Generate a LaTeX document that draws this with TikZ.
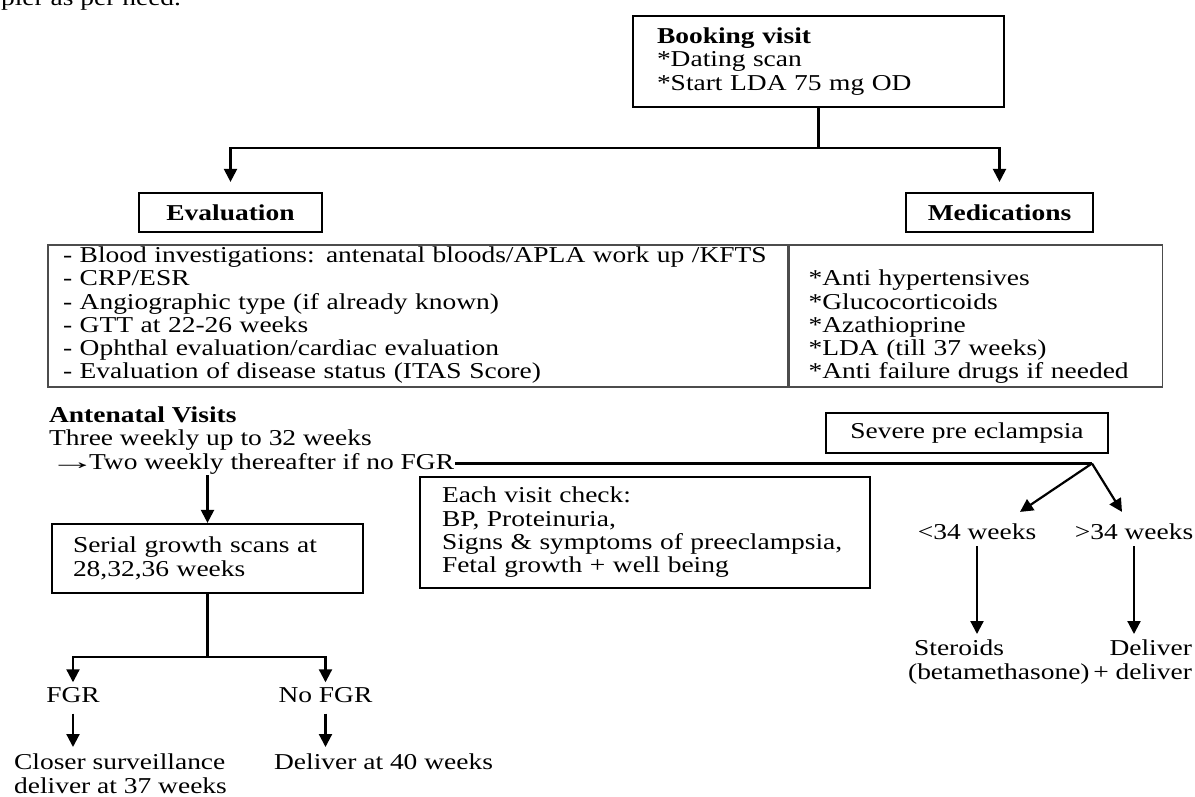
\documentclass[tikz,border=0pt]{standalone}
\usepackage{fontspec}
\usepackage{graphicx}
\setmainfont{Liberation Serif}[FakeStretch=1.21]
\usetikzlibrary{positioning}
\usetikzlibrary{arrows.meta}

\begin{document}
\begin{tikzpicture}[x=1pt,y=-1pt,>={Triangle[length=13pt,width=13pt]},line width=2.2pt,
	every node/.style={font=\fontsize{22.7}{23.3}\selectfont},
	box/.style={draw,line width=2.2pt,inner ysep=0pt},
	cell/.style={draw=black!70,line width=1.6pt,inner ysep=0pt,align=left,minimum height=142pt},
	txt/.style={inner sep=0pt}]

	\useasboundingbox (0,0) rectangle (1195,796);

	% booking and the two branches
	\node[txt,anchor=base west] (cut) at (0,5) {pler as per need.};
	\node[box,align=left,text width=323pt,inner xsep=24pt,minimum height=91pt] (book) at (818.5,61.5)
	{\textbf{Booking visit}\\{}*Dating scan\\{}*Start LDA 75 mg OD};
	\node[box,minimum width=183pt,minimum height=39pt] (eval) at (230.5,212.5) {\textbf{Evaluation}};
	\node[box,minimum width=187pt,minimum height=39pt] (med) at (999.5,212.5) {\textbf{Medications}};
	\coordinate (split) at (book.south |- 0,148);

	\draw (book.south) -- (split);
	\draw[->,shorten >=10pt] (split) -| (eval.north);
	\draw[->,shorten >=10pt] (split) -| (med.north);

	% table
	\node[cell,text width=710pt,inner xsep=15pt] (evalcell) at (418,316)
	{\strut- Blood investigations: antenatal bloods/APLA work up /KFTS\\- CRP/ESR\\- Angiographic type (if already known)\\- GTT at 22-26 weeks\\- Ophthal evaluation/cardiac evaluation\\- Evaluation of disease status (ITAS Score)\strut};
	\node[cell,text width=335pt,inner xsep=19pt] (medcell) [right=0pt of evalcell]
	{\strut\\{}*Anti hypertensives\\{}*Glucocorticoids\\{}*Azathioprine\\{}*LDA (till 37 weeks)\\{}*Anti failure drugs if needed\strut};

	% antenatal visits
	\node[txt,anchor=base west] (antv) at (48,422) {\textbf{Antenatal Visits}};
	\node[txt,anchor=base west] (three) at (48,445) {Three weekly up to 32 weeks};
	\node[txt,anchor=base west] (two) at (48,469) {\makebox[40pt][l]{\scalebox{1.7}[1]{→}}Two weekly thereafter if no FGR};
	\node[box,align=left,text width=269pt,inner xsep=21pt,minimum height=69pt] (serial) at (207.5,558.5)
	{Serial growth scans at\\28,32,36 weeks};
	\node[box,align=left,text width=406pt,inner xsep=22pt,minimum height=111pt] (check) at (645,532.5)
	{Each visit check:\\BP, Proteinuria,\\Signs \& symptoms of preeclampsia,\\Fetal growth + well being};
	\node[box,minimum width=282pt,minimum height=40pt] (severe) at (967,433) {Severe pre eclampsia};

	\draw[->] (two.south -| serial.north) -- (serial.north);

	% severe pre eclampsia branch
	\coordinate (fork) at (two.east -| 1092,0);
	\node[txt] (lt) at (977,532) {<34 weeks};
	\node[txt] (gt) at (1134,532) {>34 weeks};
	\node[txt,align=left,anchor=north west] (st) at (907,639) {\hspace{6pt}Steroids\\(betamethasone)};
	\node[txt,align=right,anchor=north east] (dl) at (1193,639) {Deliver\\+ deliver};

	\draw (two.east) -- (fork);
	\draw[->] (fork) -- ([xshift=43pt,yshift=11pt]lt.north);
	\draw[->] (fork) -- ([xshift=-12pt,yshift=11pt]gt.north);
	\draw[->,shorten <=5pt,shorten >=5pt] (lt.south) -- (lt.south |- st.north);
	\draw[->,shorten <=5pt,shorten >=5pt] (gt.south) -- (gt.south |- dl.north);

	% growth scans outcome
	\coordinate (sfork) at (serial.south |- 0,657);
	\node[txt] (fgr) at (73,695) {FGR};
	\node[txt] (nofgr) at (325.5,695) {No FGR};
	\node[txt,align=left,anchor=north west] (closer) at (13,753) {Closer surveillance\\deliver at 37 weeks};
	\node[txt,align=left,anchor=north west] (d40) at (273,753) {Deliver at 40 weeks};

	\draw (serial.south) -- (sfork);
	\draw[->,shorten >=4pt] (sfork) -| (fgr.north);
	\draw[->,shorten >=4pt] (sfork) -| (nofgr.north);
	\draw[->,shorten <=10pt,shorten >=6pt] (fgr.south) -- (fgr.south |- closer.north);
	\draw[->,shorten <=10pt,shorten >=6pt] (nofgr.south) -- (nofgr.south |- d40.north);
\end{tikzpicture}
\end{document}
